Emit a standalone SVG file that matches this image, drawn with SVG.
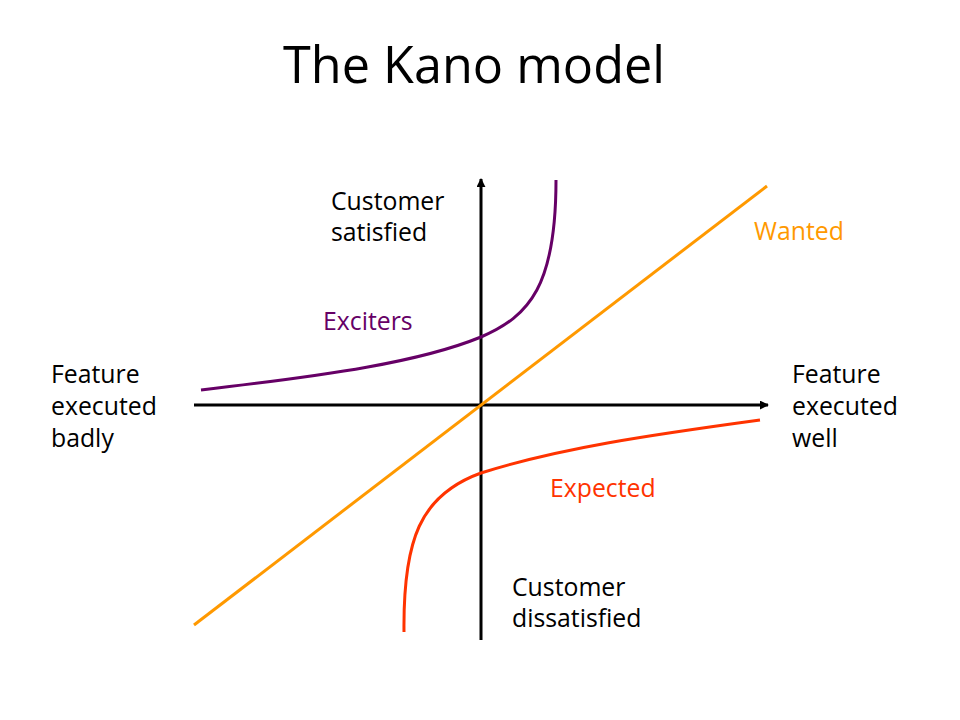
<svg xmlns="http://www.w3.org/2000/svg" width="960" height="720" viewBox="0 0 960 720">
<defs>
<style>
text{font-family:"Open Sans","Noto Sans","Liberation Sans",sans-serif;}
.lbl{font-size:24.8px;fill:#000;}
.axis{stroke:#000;stroke-width:3;fill:none;}
.curve{fill:none;stroke-width:3;}
</style>
<marker id="arr" viewBox="0 0 10 10" refX="9" refY="5" markerWidth="3" markerHeight="3" orient="auto" markerUnits="strokeWidth">
<path d="M0,0 L10,5 L0,10 z" fill="#000"/>
</marker>
</defs>
<rect width="960" height="720" fill="#fff"/>
<text x="474" y="83" text-anchor="middle" font-size="52" textLength="382" lengthAdjust="spacingAndGlyphs">The Kano model</text>
<g id="axes">
<line class="axis" x1="194" y1="405" x2="768" y2="405" marker-end="url(#arr)"/>
<line class="axis" x1="481" y1="640" x2="481" y2="179" marker-end="url(#arr)"/>
</g>
<g id="wanted">
<line x1="194" y1="625" x2="767" y2="186" stroke="#FF9900" stroke-width="3"/>
<text class="lbl" x="754" y="240" style="fill:#FF9900">Wanted</text>
</g>
<g id="exciters">
<path class="curve" stroke="#660066" d="M201,390 C330,375 420,362 481,337 C530,316 556,285 556,180"/>
<text class="lbl" x="323" y="330" style="fill:#660066">Exciters</text>
</g>
<g id="expected">
<path class="curve" stroke="#FF3300" d="M404,632 C403,540 420,495 481,473 C560,448 650,435 760,420"/>
<text class="lbl" x="550" y="497" style="fill:#FF3300">Expected</text>
</g>
<g id="labels">
<text class="lbl" x="331" y="210">Customer</text>
<text class="lbl" x="331" y="241">satisfied</text>
<text class="lbl" x="51" y="383">Feature</text>
<text class="lbl" x="51" y="415">executed</text>
<text class="lbl" x="51" y="447">badly</text>
<text class="lbl" x="792" y="383">Feature</text>
<text class="lbl" x="792" y="415">executed</text>
<text class="lbl" x="792" y="447">well</text>
<text class="lbl" x="512" y="596">Customer</text>
<text class="lbl" x="512" y="627">dissatisfied</text>
</g>
</svg>
